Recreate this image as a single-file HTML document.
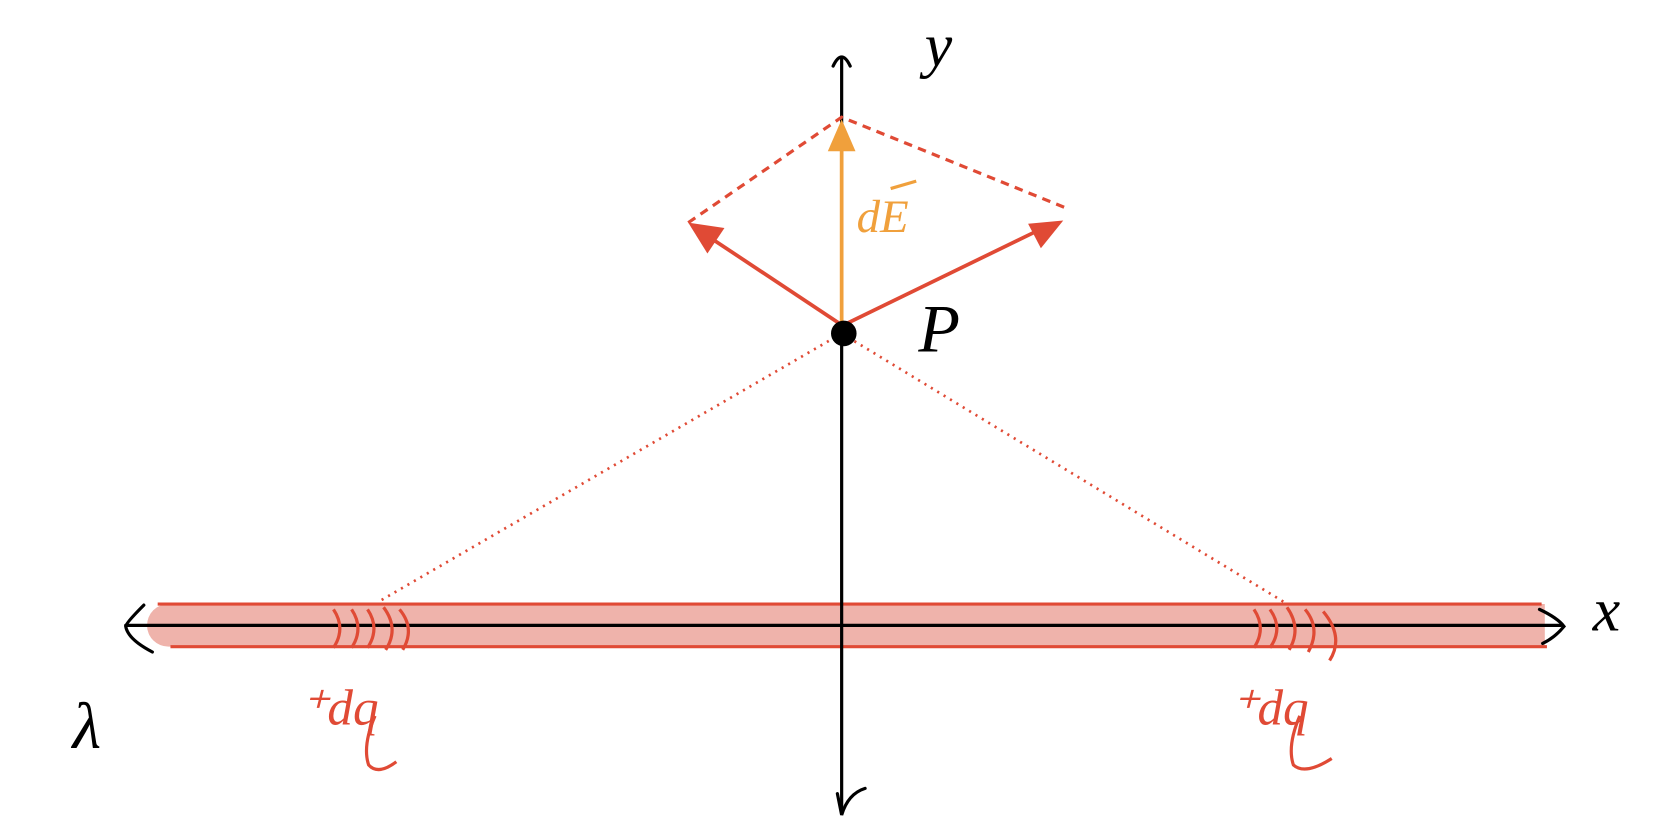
<!DOCTYPE html>
<html><head><meta charset="utf-8"><style>
html,body{margin:0;padding:0;background:#fff;}
svg{display:block;}
text{font-family:"Liberation Serif",serif;font-style:italic;}
</style></head><body>
<svg width="1662" height="838" viewBox="0 0 1560 786.6" preserveAspectRatio="none">
<path d="M158,567 L1450,567 L1450,607 L158,607 A20,20 0 0 1 158,567 Z" fill="#efb3ab"/>
<line x1="148" y1="567" x2="1447" y2="567" stroke="#e04a35" stroke-width="3"/>
<line x1="160" y1="607" x2="1452" y2="607" stroke="#e04a35" stroke-width="3"/>
<g stroke="#000" stroke-width="3" fill="none" stroke-linecap="round">
<line x1="118" y1="587" x2="1465" y2="587"/>
<path d="M135,568 Q118,585 118,588 Q120,600 143,612"/>
<path d="M1445,572 Q1462,580 1468,588 Q1460,598 1448,604"/>
</g>
<g stroke="#000" stroke-width="3" fill="none" stroke-linecap="round">
<line x1="790" y1="55" x2="790" y2="760"/>
<path d="M782,62 Q790,45 798,62"/>
<path d="M786,745 L790,765 Q796,745 812,740"/>
</g>
<g stroke="#e04a35" stroke-width="2.5" stroke-dasharray="2,5" fill="none">
<line x1="790" y1="313" x2="355" y2="565"/>
<line x1="790" y1="313" x2="1205" y2="565"/>
</g>
<g stroke="#e04a35" stroke-width="3" stroke-dasharray="8,6" fill="none">
<polyline points="646,209 790,110 1000,195"/>
</g>
<g>
<line x1="790" y1="305" x2="668" y2="224" stroke="#e04a35" stroke-width="3.5"/>
<polygon points="646,209 680,214 664,238" fill="#e04a35"/>
</g>
<g>
<line x1="792" y1="305" x2="975" y2="216" stroke="#e04a35" stroke-width="3.5"/>
<polygon points="998,207 977,233 965,210" fill="#e04a35"/>
</g>
<g>
<line x1="790" y1="305" x2="790" y2="135" stroke="#f0a03c" stroke-width="3.5"/>
<polygon points="790,112 777,142 803,142" fill="#f0a03c"/>
</g>
<circle cx="792" cy="313" r="12" fill="#000"/>
<g stroke="#e04a35" stroke-width="3" fill="none">
<path d="M313,572 Q325,590 313,608"/><path d="M330,572 Q342,590 330,608"/><path d="M345,572 Q357,590 345,608"/><path d="M360,570 Q375,590 362,610"/><path d="M375,572 Q390,590 378,610"/>
</g>
<g stroke="#e04a35" stroke-width="3" fill="none">
<path d="M1177,572 Q1189,590 1177,608"/><path d="M1192,572 Q1205,590 1192,608"/><path d="M1208,570 Q1222,590 1210,610"/><path d="M1225,572 Q1240,590 1228,612"/><path d="M1242,574 Q1262,598 1248,620"/>
</g>
<text x="868" y="62" font-size="58" fill="#000">y</text>
<text x="1495" y="592" font-size="58" fill="#000">x</text>
<text x="68" y="702" font-size="62" fill="#000">λ</text>
<text x="862" y="330" font-size="64" fill="#000">P</text>
<g>
<text x="804" y="218" font-size="44" fill="#f0a03c">dE</text>
<line x1="836" y1="177" x2="860" y2="170" stroke="#f0a03c" stroke-width="3"/>
</g>
<text x="282" y="680" font-size="48" fill="#e04a35">⁺dq</text>
<text x="1155" y="680" font-size="48" fill="#e04a35">⁺dq</text>
<path d="M352,672 Q340,700 346,718 Q355,728 372,715" stroke="#e04a35" stroke-width="3" fill="none"/>
<path d="M1220,672 Q1208,700 1214,718 Q1225,728 1250,712" stroke="#e04a35" stroke-width="3" fill="none"/>
</svg>
</body></html>
